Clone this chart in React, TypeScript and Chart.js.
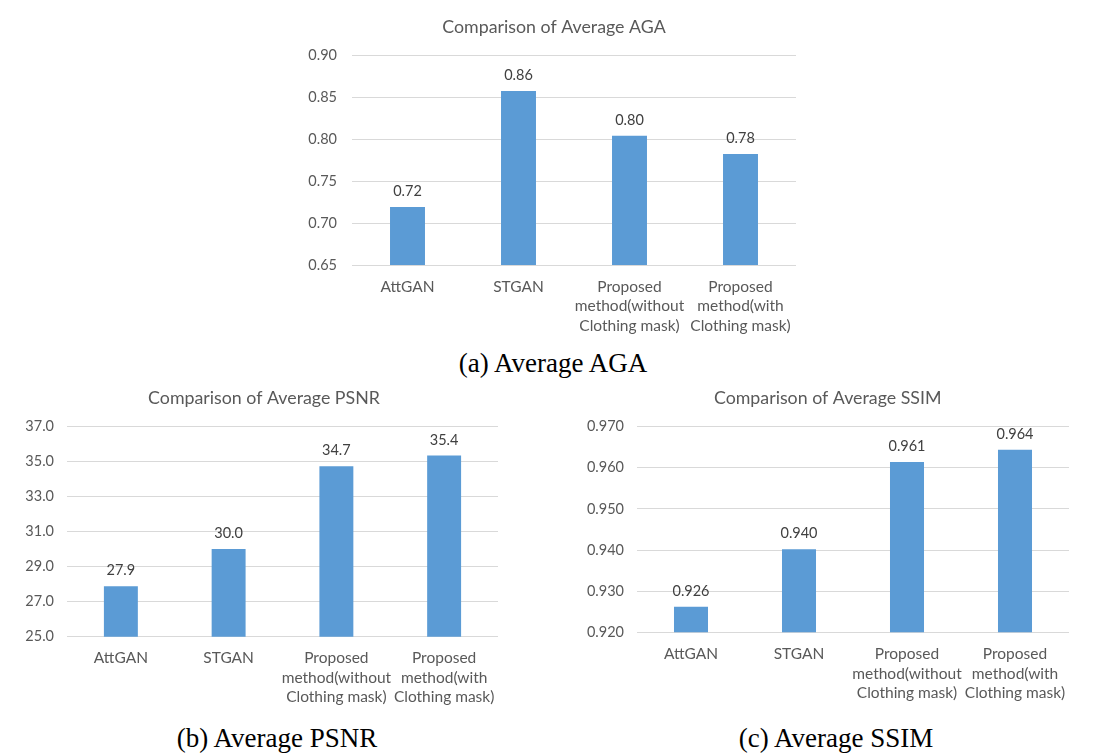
import React, { useEffect, useRef } from "react";
import { Chart, registerables } from "chart.js";

Chart.register(...registerables);

const categories: string[][] = [
  ["AttGAN"],
  ["STGAN"],
  ["Proposed", "method(without", "Clothing mask)"],
  ["Proposed", "method(with", "Clothing mask)"],
];
const agaValues = [0.719, 0.857, 0.804, 0.782];
const psnrValues = [27.88, 30.01, 34.74, 35.36];
const ssimValues = [0.9262, 0.9402, 0.9614, 0.9644];

const agaAxis = { min: 0.65, max: 0.9, step: 0.05, decimals: 2 };
const psnrAxis = { min: 25, max: 37, step: 2, decimals: 1 };
const ssimAxis = { min: 0.92, max: 0.97, step: 0.01, decimals: 3 };

const titles = ["Comparison of Average AGA", "Comparison of Average PSNR", "Comparison of Average SSIM"];
const captions = ["(a) Average AGA", "(b) Average PSNR", "(c) Average SSIM"];

const FONT = "Lato, 'Open Sans', sans-serif";
const BAR = "#5B9BD5";
const GRID = "#D9D9D9";
const TXT = "#595959";
const LBL = "#404040";

type PanelProps = {
  left: number;
  top: number;
  width: number;
  height: number;
  plot: { l: number; t: number; r: number; b: number };
  titleX: number;
  titleY: number;
  title: string;
  values: number[];
  axis: { min: number; max: number; step: number; decimals: number };
  tickPad: number;
};

function Panel(p: PanelProps) {
  const ref = useRef<HTMLCanvasElement | null>(null);
  useEffect(() => {
    if (!ref.current) return;
    const dec = p.axis.decimals;
    const chart = new Chart(ref.current, {
      type: "bar",
      data: {
        labels: categories,
        datasets: [
          {
            data: p.values,
            backgroundColor: BAR,
            borderWidth: 0,
            categoryPercentage: 1,
            barPercentage: 0.315,
          },
        ],
      },
      options: {
        responsive: false,
        animation: false,
        devicePixelRatio: 1,
        layout: { padding: { top: p.plot.t, right: p.width - p.plot.r, left: 0, bottom: 0 } },
        plugins: {
          legend: { display: false },
          title: { display: false },
          tooltip: { enabled: false },
        },
        scales: {
          x: {
            grid: { display: false },
            border: { display: false },
            ticks: {
              color: TXT,
              font: { family: FONT, size: 15.5, lineHeight: "19.5px" },
              padding: 4,
              maxRotation: 0,
              autoSkip: false,
            },
            afterFit: (s: any) => {
              s.height = p.height - p.plot.b;
            },
          },
          y: {
            min: p.axis.min,
            max: p.axis.max,
            grid: { color: GRID, drawTicks: false, lineWidth: 1 },
            border: { display: false },
            ticks: {
              stepSize: p.axis.step,
              color: TXT,
              font: { family: FONT, size: 14.5 },
              padding: p.tickPad,
              callback: (v: any) => Number(v).toFixed(dec),
            },
            afterFit: (s: any) => {
              s.width = p.plot.l;
            },
          },
        },
      },
      plugins: [
        {
          id: "extras",
          afterDatasetsDraw(c: any) {
            const ctx = c.ctx;
            ctx.save();
            ctx.fillStyle = LBL;
            ctx.font = `14.5px ${FONT}`;
            ctx.textAlign = "center";
            ctx.textBaseline = "middle";
            const meta = c.getDatasetMeta(0);
            meta.data.forEach((el: any, i: number) => {
              ctx.fillText(p.values[i].toFixed(dec), el.x, el.y - 15.5);
            });
            ctx.fillStyle = TXT;
            ctx.font = `17.8px ${FONT}`;
            ctx.fillText(p.title, p.titleX, p.titleY);
            ctx.restore();
          },
        },
      ],
    } as any);
    return () => chart.destroy();
  }, []);
  return (
    <div style={{ position: "absolute", left: p.left, top: p.top, width: p.width, height: p.height }}>
      <canvas ref={ref} width={p.width} height={p.height} style={{ width: p.width, height: p.height, display: "block" }} />
    </div>
  );
}

function Caption({ text, cx, baseline }: { text: string; cx: number; baseline: number }) {
  return (
    <div
      style={{
        position: "absolute",
        left: cx - 200,
        width: 400,
        top: baseline - 23.2,
        textAlign: "center",
        fontFamily: "'Liberation Serif', 'Times New Roman', serif",
        fontSize: 27,
        lineHeight: "27px",
        color: "#000",
        whiteSpace: "nowrap",
      }}
    >
      {text}
    </div>
  );
}

export default function App() {
  return (
    <div style={{ position: "fixed", left: 0, top: 0, width: 1098, height: 755, background: "#fff", overflow: "hidden" }}>
      <Panel
        left={290}
        top={10}
        width={520}
        height={330}
        plot={{ l: 62, t: 45, r: 506, b: 255 }}
        titleX={264}
        titleY={17}
        title={titles[0]}
        values={agaValues}
        axis={agaAxis}
        tickPad={15}
      />
      <Panel
        left={0}
        top={380}
        width={540}
        height={330}
        plot={{ l: 67, t: 46.7, r: 498, b: 256.7 }}
        titleX={264}
        titleY={18}
        title={titles[1]}
        values={psnrValues}
        axis={psnrAxis}
        tickPad={13}
      />
      <Panel
        left={560}
        top={380}
        width={538}
        height={330}
        plot={{ l: 77, t: 46.7, r: 509, b: 252.3 }}
        titleX={267.7}
        titleY={18}
        title={titles[2]}
        values={ssimValues}
        axis={ssimAxis}
        tickPad={13}
      />
      <Caption text={captions[0]} cx={553} baseline={373} />
      <Caption text={captions[1]} cx={277} baseline={748} />
      <Caption text={captions[2]} cx={836} baseline={748} />
    </div>
  );
}
